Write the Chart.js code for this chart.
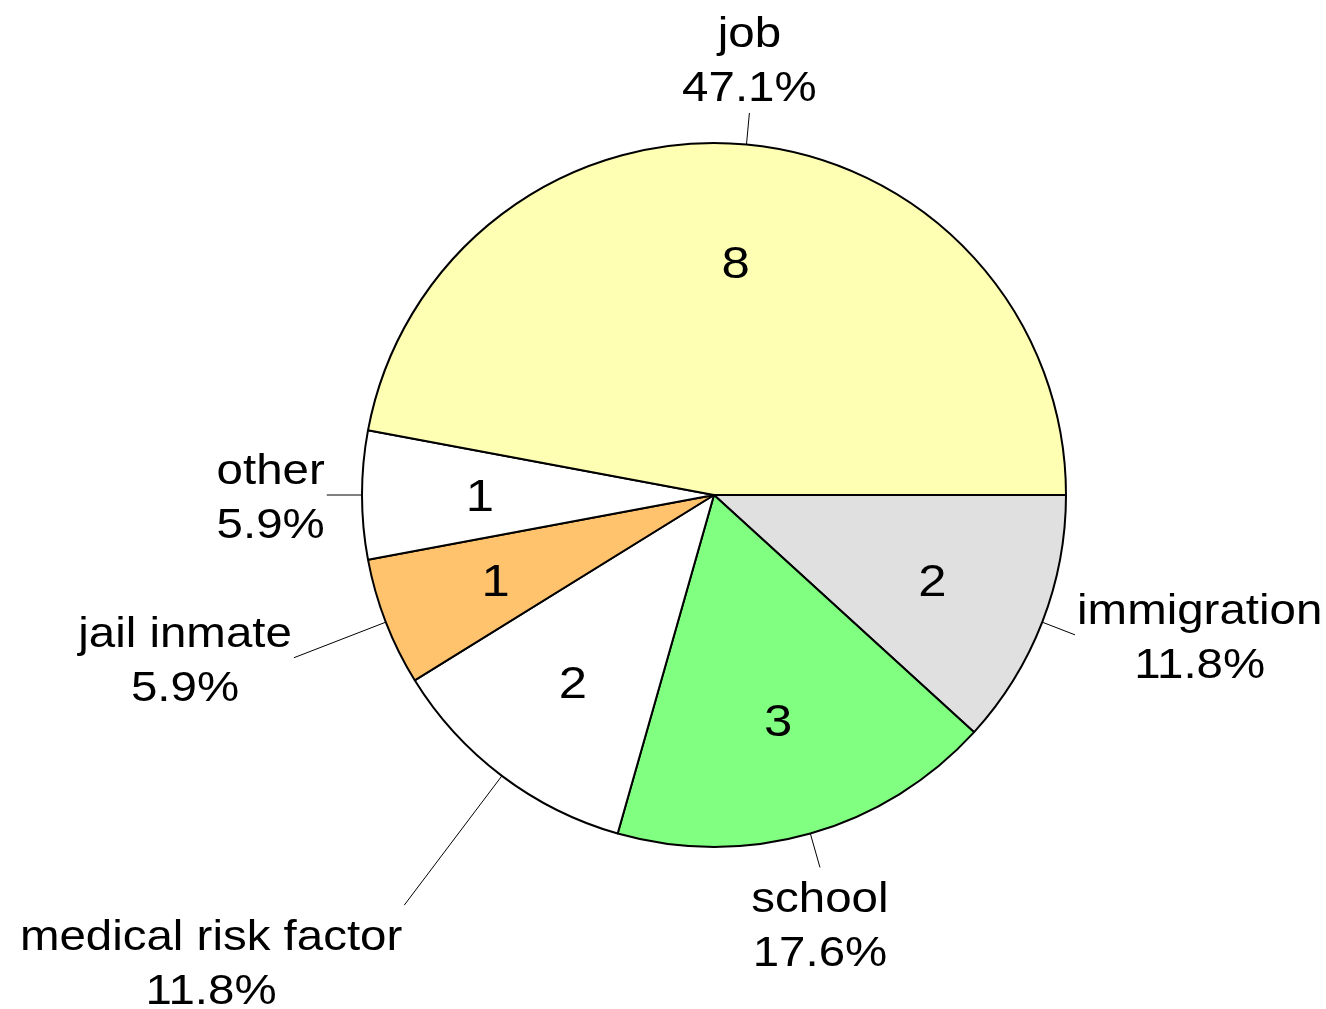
<!DOCTYPE html>
<html>
<head>
<meta charset="utf-8">
<script src="https://cdn.jsdelivr.net/npm/chart.js@4.4.1/dist/chart.umd.min.js"></script>
<style>
html,body{margin:0;padding:0;background:#fff;}
#wrap{width:1326px;height:1009px;position:relative;}
</style>
</head>
<body>
<div id="wrap"><canvas id="c" width="1326" height="1009"></canvas></div>
<script>
// Data in clockwise drawing order starting at 3 o'clock
const categories = ['immigration', 'school', 'medical risk factor', 'jail inmate', 'other', 'job'];
const counts = [2, 3, 2, 1, 1, 8];
const sliceColors = ['#E0E0E0', '#80FF80', '#FFFFFF', '#FFC36E', '#FFFFFF', '#FFFFB3'];
// leader line end radius as a multiple of the pie radius (style)
const leaderFactor = [1.1, 1.1, 1.46, 1.28, 1.1, 1.09];

const total = counts.reduce((a, b) => a + b, 0);
const pctLabels = counts.map(v => (v / total * 100).toFixed(1) + '%');

const FONT = '"Liberation Sans", Arial, sans-serif';
const XSTRETCH = 1.13;

function drawStretched(ctx, text, cx, baseline) {
  ctx.save();
  ctx.translate(cx, baseline);
  ctx.scale(XSTRETCH, 1);
  ctx.textAlign = 'center';
  ctx.textBaseline = 'alphabetic';
  ctx.fillText(text, 0, 0);
  ctx.restore();
}

const labelPlugin = {
  id: 'pieLabels',
  afterDatasetsDraw(chart) {
    const ctx = chart.ctx;
    const meta = chart.getDatasetMeta(0);
    ctx.save();
    meta.data.forEach((arc, i) => {
      const p = arc.getProps(['x', 'y', 'startAngle', 'endAngle', 'outerRadius'], true);
      const a = (p.startAngle + p.endAngle) / 2;
      const c = Math.cos(a), s = Math.sin(a);
      const r = p.outerRadius;
      // inner count label
      ctx.fillStyle = '#000';
      ctx.font = '45px ' + FONT;
      const ir = r * 0.665;
      drawStretched(ctx, String(counts[i]), p.x + c * ir, p.y + s * ir + 16);
      // leader line
      const lr = r * leaderFactor[i];
      const ex = p.x + c * lr, ey = p.y + s * lr;
      ctx.strokeStyle = '#000';
      ctx.lineWidth = 1;
      ctx.beginPath();
      ctx.moveTo(p.x + c * r, p.y + s * r);
      ctx.lineTo(ex, ey);
      ctx.stroke();
      // outer label
      ctx.font = '42px ' + FONT;
      const lines = [categories[i], pctLabels[i]];
      const lh = 54;
      const bw = Math.max(...lines.map(t => ctx.measureText(t).width)) * XSTRETCH;
      let left;
      if (Math.abs(c) < 0.3) left = ex - bw / 2;
      else if (c > 0) left = ex + 2;
      else left = ex - 2 - bw;
      let b1;
      if (s < -0.5) b1 = ey - 12 - lh;       // above
      else if (s > 0.5) b1 = ey + 45;        // below
      else b1 = ey - 11;                      // middle
      lines.forEach((t, k) => drawStretched(ctx, t, left + bw / 2, b1 + k * lh));
    });
    ctx.restore();
  }
};

new Chart(document.getElementById('c'), {
  type: 'pie',
  data: {
    labels: categories,
    datasets: [{
      data: counts,
      backgroundColor: sliceColors,
      borderColor: '#000000',
      borderWidth: 2,
      radius: 352
    }]
  },
  options: {
    responsive: false,
    animation: false,
    rotation: 90,
    layout: { padding: { left: 102, right: 0, top: 0, bottom: 19 } },
    plugins: { legend: { display: false }, tooltip: { enabled: false } },
    events: []
  },
  plugins: [labelPlugin]
});
</script>
</body>
</html>
